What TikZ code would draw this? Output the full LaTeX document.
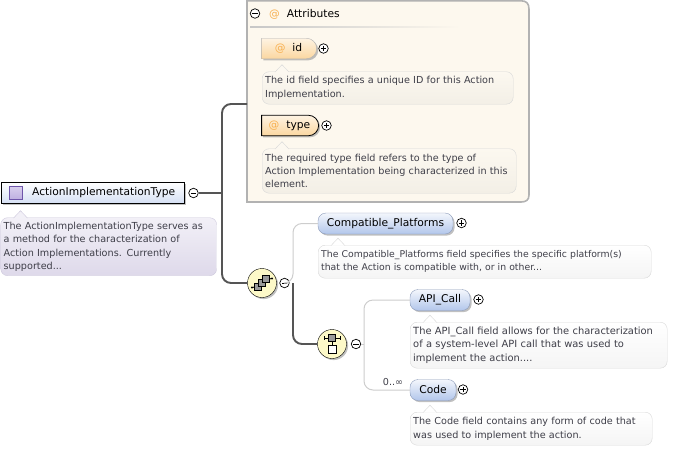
\documentclass[tikz,border=0pt]{standalone}
\usepackage{fontspec}
\setmainfont{DejaVu Sans}
\usepackage{tikz}
\usetikzlibrary{
  shapes.misc, shapes.geometric,
  positioning, calc, shadows
}
\definecolor{typeblue}{RGB}{178,198,235}
\definecolor{typeedge}{RGB}{140,155,185}
\definecolor{attrorange}{RGB}{248,176,80}
\definecolor{attrpeach}{RGB}{251,215,160}
\definecolor{attrcream}{RGB}{253,248,238}
\definecolor{attredge}{RGB}{178,178,178}
\definecolor{notegray}{RGB}{216,216,216}
\definecolor{notetext}{RGB}{62,62,72}
\definecolor{lilacA}{RGB}{242,240,247}
\definecolor{lilacB}{RGB}{222,217,234}
\definecolor{lilacedge}{RGB}{205,200,220}
\definecolor{iconlilac}{RGB}{190,175,225}
\definecolor{iconedge}{RGB}{110,85,170}
\definecolor{creamA}{RGB}{252,248,240}
\definecolor{creamB}{RGB}{243,239,230}
\definecolor{badgeyellow}{RGB}{253,249,200}
\definecolor{trunkgray}{RGB}{85,85,85}
\definecolor{twiggray}{RGB}{205,205,205}
\tikzset{
  softshadow/.style={drop shadow={shadow xshift=1.6pt,shadow yshift=-1.6pt,fill=black!45,opacity=.55}},
  basenote/.style={rectangle,rounded corners=7pt,draw,align=left,anchor=north west,inner xsep=3pt,inner ysep=0pt,
    text=notetext,font=\fontsize{9.65}{13.3}\selectfont},
  plainnote/.style={basenote,draw=notegray,top color=white,bottom color=black!4},
  creamnote/.style={basenote,draw=notegray,top color=creamA,bottom color=creamB},
  lilacnote/.style={basenote,draw=lilacedge,top color=lilacA,bottom color=lilacB},
  typebox/.style={rectangle,draw=black,thick,top color=white,bottom color=typeblue!55,anchor=west,inner xsep=0pt,
    minimum height=21pt,font=\fontsize{10.7}{12}\selectfont,softshadow},
  elembox/.style={rectangle,rounded corners=8pt,draw=typeedge,top color=white!85!typeblue,bottom color=typeblue,
    minimum height=21pt,inner xsep=0pt,font=\fontsize{10.7}{12}\selectfont,softshadow},
  attrbox/.style={rounded rectangle,rounded rectangle west arc=none,draw=attredge,top color=white!70!attrpeach,bottom color=attrpeach,
    minimum height=20.5pt,inner xsep=0pt,font=\fontsize{10.7}{12}\selectfont,softshadow},
  attrkeybox/.style={attrbox,draw=black,thick},
  badge/.style={circle,draw=black,fill=badgeyellow,minimum size=29pt,inner sep=0pt,softshadow},
  togglebase/.style={circle,draw=black,fill=white,minimum size=9.5pt,inner sep=0pt,line width=.7pt},
  minusbtn/.style={togglebase,path picture={\draw[line width=.7pt] ($(path picture bounding box.center)+(-2.6,0)$) -- ++(5.2,0);}},
  plusbtn/.style={togglebase,path picture={\draw[line width=.7pt] ($(path picture bounding box.center)+(-2.6,0)$) -- ++(5.2,0);
    \draw[line width=.7pt] ($(path picture bounding box.center)+(0,-2.6)$) -- ++(0,5.2);}},
  trunkline/.style={line width=1.9pt,color=trunkgray,rounded corners=9pt},
  twigline/.style={line width=1pt,color=twiggray,rounded corners=9pt},
  iconsq/.style={draw=black,line width=.5pt,fill=black!40}
}
\begin{document}
\begin{tikzpicture}[x=1pt,y=-1pt]
  \useasboundingbox (0,0) rectangle (675,448);

  % attribute group
  \path[draw=attredge,line width=1.6pt,fill=attrcream] (247,0.8) -- (521,0.8)
      .. controls (526,0.8) and (529,3) .. (529,9) -- (529,195)
      .. controls (529,200) and (526,202) .. (521,202) -- (247,202) -- cycle;
  \shade[left color=black!22,right color=attrcream] (250,26) rectangle (460,27.2);
  \coordinate (attrsin) at (247,104);
  \node[minusbtn] (attrminus) at (255,13.5) {};
  \node[anchor=west,inner sep=0pt,font=\fontsize{10.7}{12}\selectfont] (attrtitle) at (269,14.3)
      {\textcolor{attrorange}{@}\hspace{7pt}Attributes};

  \node[attrbox,minimum width=55pt] (idbox) at (288.5,48.5) {\textcolor{attrorange}{@}\hspace{7pt}id\hspace{12pt}};
  \node[plusbtn] (idplus) at (323.5,48.5) {};
  \node[creamnote,minimum height=32.5pt,text width=245pt] (idnote) at (262,71.5)
      {The id field specifies a unique ID for this Action\\Implementation.};

  \node[attrkeybox,minimum width=57pt] (typekey) at (289.5,125.5) {\textcolor{attrorange}{@}\hspace{7pt}type\hspace{2pt}};
  \node[plusbtn] (typeplus) at (326.5,125.5) {};
  \node[creamnote,minimum height=44.5pt,text width=248pt] (typenote) at (262,148.5)
      {The required type field refers to the type of\\Action Implementation being characterized in this\\element.};

  % root type
  \node[typebox,minimum width=183pt,align=left] (roottype) at (0.8,193) {\hspace{22pt}ActionImplementationType};
  \node[rectangle,draw=iconedge,top color=white!40!iconlilac,bottom color=iconlilac,minimum size=13pt,inner sep=0pt] (rooticon) at (15.5,193) {};
  \node[minusbtn] (rootminus) at (193.5,193) {};
  \node[lilacnote,minimum height=58pt,text width=210pt] (rootnote) at (0.5,217.5)
      {The ActionImplementationType serves as\\a method for the characterization of\\Action Implementations. Currently\\supported...};

  % sequence and choice
  \node[badge] (seqbadge) at (262,283) {};
  \node[minusbtn] (seqminus) at (284.5,283) {};
  \node[badge] (choicebadge) at (332,344) {};
  \node[minusbtn] (choiceminus) at (356,344) {};
  \coordinate (rootjoin) at (222,193);
  \coordinate (seqjoin) at (293,283);
  \coordinate (choicejoin) at (364,344);

  % elements
  \node[elembox,minimum width=135pt] (compat) at (385.5,223.5) {Compatible\_Platforms};
  \node[plusbtn] (compatplus) at (461.5,223) {};
  \node[plainnote,minimum height=33pt,text width=327pt,font=\fontsize{9.3}{13.3}\selectfont] (compatnote) at (318,245)
      {The Compatible\_Platforms field specifies the specific platform(s)\\that the Action is compatible with, or in other...};

  \node[elembox,minimum width=60pt] (apicall) at (440,300) {API\_Call};
  \node[plusbtn] (apiplus) at (478.5,299.5) {};
  \node[plainnote,minimum height=46pt,text width=251pt,font=\fontsize{9.9}{13.3}\selectfont] (apinote) at (410,322)
      {The API\_Call field allows for the characterization\\of a system-level API call that was used to\\implement the action....};

  \node[elembox,minimum width=46pt] (codebox) at (433,390) {Code};
  \node[plusbtn] (codeplus) at (463,389.5) {};
  \node[plainnote,minimum height=33pt,text width=236pt] (codenote) at (410,412)
      {The Code field contains any form of code that\\was used to implement the action.};
  \node[inner sep=0pt,text=notetext,font=\fontsize{9.6}{11}\selectfont] (codemult) at (393,382) {0..∞};

  % connectors
  \draw[trunkline] (rootminus.east) -- (rootjoin);
  \draw[trunkline] (attrsin) -| (rootjoin) |- (seqbadge.west);
  \draw[twigline] (seqminus.east) -- (seqjoin) |- (compat.west);
  \draw[trunkline] (seqjoin) |- (choicebadge.west);
  \draw[twigline] (choiceminus.east) -- (choicejoin);
  \draw[twigline] (apicall.west) -| (choicejoin) |- (codebox.west);

  % note tips
  \foreach \notename/\tipfill/\tipedge in {rootnote/lilacA/lilacedge,idnote/creamA/notegray,typenote/creamA/notegray,
      compatnote/white/notegray,apinote/white/notegray,codenote/white/notegray}
    \filldraw[fill=\tipfill,draw=\tipedge] ($(\notename.north west)+(13,0.6)$) -- ++(7,-7.4) -- ++(7,7.4);

  % badge icons
  \draw[line width=.8pt] (seqbadge.center) ++(-9,4.5) -- ++(18,-9);
  \foreach \dx in {-4,0,4}
    \draw[iconsq] ($(seqbadge.center)+(\dx-3.5,-\dx-3.5)$) rectangle ++(7,7);
  \fill ($(seqbadge.center)+(-10,4.5)$) circle (1.2);
  \fill ($(seqbadge.center)+(10,-4.5)$) circle (1.2);
  \draw[line width=.8pt] ($(choicebadge.center)+(-8,-6)$) -- ++(16,0);
  \draw[line width=.8pt] ($(choicebadge.center)+(-8,-8)$) -- ++(0,4);
  \draw[line width=.8pt] ($(choicebadge.center)+(8,-8)$) -- ++(0,4);
  \draw[line width=.6pt] ($(choicebadge.center)+(0,-3)$) -- ++(0,4);
  \draw[iconsq] ($(choicebadge.center)+(-3.5,-9.5)$) rectangle ++(7,7);
  \draw[iconsq,fill=white] ($(choicebadge.center)+(-4,1)$) rectangle ++(8,8);
\end{tikzpicture}
\end{document}
